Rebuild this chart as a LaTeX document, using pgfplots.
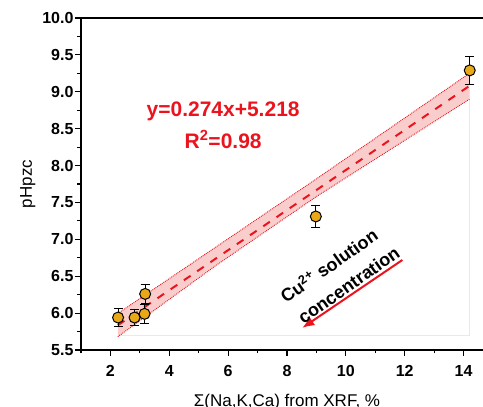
\documentclass[border=0pt]{standalone}
\usepackage{pgfplots}
\pgfplotsset{compat=1.18}
\usetikzlibrary{arrows.meta}
\usepackage{fontspec}
\setmainfont{Liberation Sans}
\setsansfont{Liberation Sans}
\definecolor{ptfill}{RGB}{232,168,24}
\definecolor{bandfill}{RGB}{250,205,205}
\definecolor{fitred}{RGB}{235,20,30}
\begin{document}
\begin{tikzpicture}
\begin{axis}[
  scale only axis, width=412pt, height=332pt,
  xmin=1, xmax=15, ymin=5.5, ymax=10,
  xtick={2,4,...,14}, ytick={5.5,6,...,10},
  minor xtick={1,3,...,15}, minor ytick={5.75,6.25,...,9.75},
  xtick pos=bottom, ytick pos=left,
  tick align=outside,
  major tick length=6pt, minor tick length=3.5pt,
  every tick/.style={black, line width=1.2pt},
  axis line style={line width=1.6pt},
  /pgf/number format/assume math mode=true,
  ticklabel style={font=\fontsize{16}{16}\selectfont\bfseries},
  xticklabel style={yshift=-6pt},
  yticklabel style={xshift=2pt, /pgf/number format/.cd, fixed, fixed zerofill, precision=1},
  xlabel={Σ(Na,K,Ca) from XRF, \%},
  ylabel={pHpzc},
  label style={font=\fontsize{17}{17}\selectfont},
  xlabel style={at={(axis description cs:0.5,0)}, anchor=north, yshift=-41pt},
  clip=false,
]
\coordinate (bl) at (rel axis cs:0,0);
\coordinate (tr) at (rel axis cs:1,1);
% faint guide lines
\addplot[draw=red!12, line width=0.8pt] coordinates {(2.3,5.70) (14.2,5.70) (14.2,9.05)};
% confidence band
\addplot[draw=none, fill=bandfill, forget plot] coordinates {
 (2.25,5.995) (5.6,6.90) (9.0,7.82) (14.2,9.25)
 (14.2,8.90) (9.0,7.58) (5.6,6.65) (2.25,5.68)} -- cycle;
\addplot[draw=fitred, densely dotted, line width=0.9pt] coordinates {(2.25,5.995) (5.6,6.90) (9.0,7.82) (14.2,9.25)};
\addplot[draw=fitred, densely dotted, line width=0.9pt] coordinates {(2.25,5.68) (5.6,6.65) (9.0,7.58) (14.2,8.90)};
% fit line
\addplot[draw=fitred, dash pattern=on 8pt off 8pt, line width=2pt] coordinates {(2.25,5.835) (14.2,9.08)};
% data
\addplot[only marks, mark=*, mark size=5.5pt, mark options={fill=ptfill, draw=black, line width=1pt},
  error bars/.cd, y dir=both, y explicit,
  error bar style={black, line width=1pt}, error mark options={rotate=90, mark size=4.5pt, line width=1pt}]
  coordinates {
  (2.26,5.94) +- (0,0.12)
  (2.82,5.94) +- (0,0.11)
  (3.16,5.99) +- (0,0.13)
  (3.18,6.26) +- (0,0.125)
  (8.98,7.31) +- (0,0.15)
  (14.21,9.29) +- (0,0.19)
  };
% annotations
\node[text=fitred, font=\fontsize{21}{21}\selectfont\bfseries] at (axis cs:5.83,8.73) {y=0.274x+5.218};
\node[text=fitred, font=\fontsize{21}{21}\selectfont\bfseries] at (axis cs:5.83,8.35) {R\textsuperscript{2}=0.98};
\draw[fitred, line width=2pt, -{Latex[length=12pt,width=10pt]}] (axis cs:11.92,6.72) -- (axis cs:8.52,5.80);
\node[rotate=35, font=\fontsize{18}{18}\selectfont\bfseries, inner sep=0pt] at (axis cs:9.41,6.65) {Cu\textsuperscript{2+} solution};
\node[rotate=35, font=\fontsize{18}{18}\selectfont\bfseries, inner sep=0pt] at (axis cs:10.1,6.38) {concentration};
\end{axis}
\pgfresetboundingbox
\useasboundingbox ([xshift=-81pt,yshift=-57pt]bl) rectangle ([xshift=-10pt,yshift=18pt]tr);
\end{tikzpicture}
\end{document}
